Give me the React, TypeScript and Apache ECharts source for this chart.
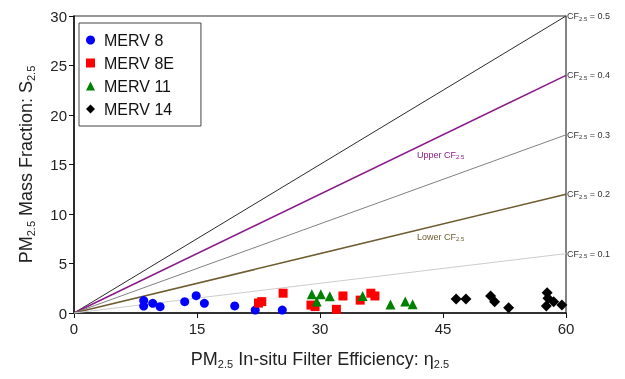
import React, { useEffect, useRef } from "react";
import * as echarts from "echarts";

const xTicks = [0, 15, 30, 45, 60];
const cfValues = [0.5, 0.4, 0.3, 0.2, 0.1];
const cfColors = ["#2a2a2a", "#8b1a8b", "#808080", "#6e5c30", "#cccccc"];
const cfWidths = [1, 1.6, 1, 1.6, 1];

const merv8X = [8.5, 8.5, 9.6, 10.5, 13.5, 14.9, 15.9, 19.6, 22.1, 25.4];
const merv8Y = [1.25, 0.7, 0.98, 0.64, 1.14, 1.75, 0.98, 0.71, 0.3, 0.3];
const merv8EX = [22.5, 22.9, 25.5, 28.9, 29.4, 32.0, 32.8, 34.9, 36.2, 36.7];
const merv8EY = [1.0, 1.15, 2.0, 0.8, 0.65, 0.37, 1.72, 1.3, 2.0, 1.72];
const merv11X = [29.0, 29.6, 30.1, 31.2, 35.2, 38.6, 40.4, 41.3];
const merv11Y = [1.9, 1.15, 1.9, 1.7, 1.72, 0.85, 1.15, 0.88];
const merv14X = [46.6, 47.8, 50.8, 51.3, 53.0, 57.6, 57.7, 57.8, 58.5, 59.5];
const merv14Y = [1.41, 1.41, 1.72, 1.14, 0.54, 0.71, 2.05, 1.48, 1.14, 0.81];

const seriesNames = ["MERV 8", "MERV 8E", "MERV 11", "MERV 14"];
const FONT = "Liberation Sans, Arial, sans-serif";

function zip(xs: number[], ys: number[]) {
  return xs.map((x, i) => [x, ys[i]]);
}

export default function App() {
  const ref = useRef<HTMLDivElement>(null);
  useEffect(() => {
    if (!ref.current) return;
    const chart = echarts.init(ref.current, null, { renderer: "svg" });
    const subRich = (main: number, sub: number, color: string) => ({
      m: { fontSize: main, color, fill: color, fontFamily: FONT, lineHeight: main + 2 },
      s: {
        fontSize: sub,
        color,
        fill: color,
        fontFamily: FONT,
        verticalAlign: "bottom",
        lineHeight: sub + 1,
      },
    });

    const lineSeries = cfValues.map((cf, i) => ({
      type: "line",
      name: "CF" + cf,
      data: [
        [0, 0],
        [60, cf * 60],
      ],
      showSymbol: false,
      symbol: "none",
      silent: true,
      z: 1,
      clip: false,
      lineStyle: { color: cfColors[i], width: cfWidths[i] },
      endLabel: {
        show: true,
        distance: 1,
        formatter: "{m|CF}{s|2.5}{m| = " + cf.toFixed(1) + "}",
        rich: subRich(9, 6, "#333"),
      },
    }));

    const scatter = (
      name: string,
      data: number[][],
      symbol: string,
      color: string,
      size: number
    ) => ({
      type: "scatter",
      name,
      data,
      symbol,
      symbolSize: size,
      itemStyle: { color, opacity: 1 },
      z: 5,
    });

    chart.setOption({
      animation: false,
      grid: {
        left: 74,
        right: 59,
        top: 16,
        bottom: 66,
        show: true,
        borderColor: "#333",
        borderWidth: 1.2,
      },
      legend: {
        data: seriesNames,
        orient: "vertical",
        left: 79,
        top: 23,
        itemWidth: 9,
        itemHeight: 9,
        itemGap: 7,
        padding: [9, 27, 9, 7],
        borderColor: "#444",
        borderWidth: 1,
        textStyle: {
          fontSize: 16,
          color: "#111",
          fontFamily: FONT,
          padding: [0, 0, 0, 4],
        },
      },
      xAxis: {
        type: "value",
        min: 0,
        max: 60,
        interval: 15,
        splitLine: { show: false },
        axisLine: { lineStyle: { color: "#111", width: 1.5 } },
        axisTick: { show: true, inside: false, length: 5, lineStyle: { color: "#111" } },
        axisLabel: {
          fontSize: 15,
          color: "#222",
          fontFamily: FONT,
          margin: 8,
          customValues: xTicks,
        },
        name: "{m|PM}{s|2.5}{m| In-situ Filter Efficiency: η}{s|2.5}",
        nameLocation: "middle",
        nameGap: 36,
        nameTextStyle: { rich: subRich(18, 11, "#222") },
      },
      yAxis: {
        type: "value",
        min: 0,
        max: 30,
        interval: 5,
        splitLine: { show: false },
        axisLine: { lineStyle: { color: "#111", width: 1.5 } },
        axisTick: { show: true, inside: false, length: 5, lineStyle: { color: "#111" } },
        axisLabel: { fontSize: 15, color: "#222", fontFamily: FONT, margin: 7 },
        name: "{m|PM}{s|2.5}{m| Mass Fraction: S}{s|2.5}",
        nameLocation: "middle",
        nameGap: 38,
        nameRotate: 90,
        nameTextStyle: { rich: subRich(18, 11, "#222") },
      },
      graphic: [
        {
          type: "text",
          left: 417,
          top: 150,
          style: {
            text: "{m|Upper CF}{s|2.5}",
            fill: "#8b1a8b",
            rich: subRich(9, 6, "#8b1a8b"),
          },
        },
        {
          type: "text",
          left: 417,
          top: 232,
          style: {
            text: "{m|Lower CF}{s|2.5}",
            fill: "#6e5c30",
            rich: subRich(9, 6, "#6e5c30"),
          },
        },
      ],
      series: [
        ...lineSeries,
        scatter("MERV 8", zip(merv8X, merv8Y), "circle", "#0000ff", 9),
        scatter("MERV 8E", zip(merv8EX, merv8EY), "rect", "#ff0000", 9),
        scatter("MERV 11", zip(merv11X, merv11Y), "triangle", "#008000", 10),
        scatter("MERV 14", zip(merv14X, merv14Y), "diamond", "#000000", 11),
      ],
    });
    return () => chart.dispose();
  }, []);
  return (
    <div
      ref={ref}
      style={{ position: "fixed", left: 0, top: 0, width: 625, height: 379 }}
    />
  );
}
